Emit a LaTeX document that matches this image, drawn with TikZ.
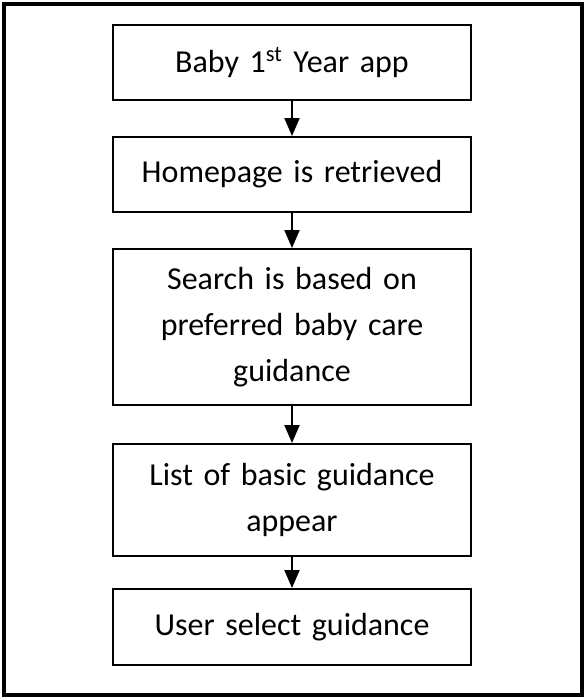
\documentclass[tikz,border=0pt]{standalone}
\usepackage{fontspec}
\setmainfont{Carlito}
\usetikzlibrary{arrows.meta}

\tikzset{
    stepbox/.style={draw=black,line width=1.1pt,fill=white,minimum width=7.16cm,
        text width=6.8cm,align=center,font=\fontsize{18.2}{26.2}\selectfont}
}

\begin{document}
\begin{tikzpicture}
                \useasboundingbox (0,0) rectangle (11.68,13.96);
                \draw[line width=2.3pt,black] (0.08,0.06) rectangle (11.64,13.88);

                \node[stepbox,minimum height=1.5cm] (app) at (5.84,12.71) {Baby 1\textsuperscript{st} Year app};
                \node[stepbox,minimum height=1.5cm] (home) at (5.84,10.47) {Homepage is retrieved};
                \node[stepbox,minimum height=3.12cm] (search) at (5.84,7.42) {Search is based on\\preferred baby care\\guidance};
                \node[stepbox,minimum height=2.24cm] (list) at (5.84,3.96) {List of basic guidance\\appear};
                \node[stepbox,minimum height=1.52cm] (select) at (5.84,1.42) {User select guidance};

                \draw[line width=1.1pt,black,-{Triangle[length=0.36cm,width=0.3cm]}] (app) -- (home);
                \draw[line width=1.1pt,black,-{Triangle[length=0.36cm,width=0.3cm]}] (home) -- (search);
                \draw[line width=1.1pt,black,-{Triangle[length=0.36cm,width=0.3cm]}] (search) -- (list);
                \draw[line width=1.1pt,black,-{Triangle[length=0.36cm,width=0.3cm]}] (list) -- (select);
\end{tikzpicture}
\end{document}
